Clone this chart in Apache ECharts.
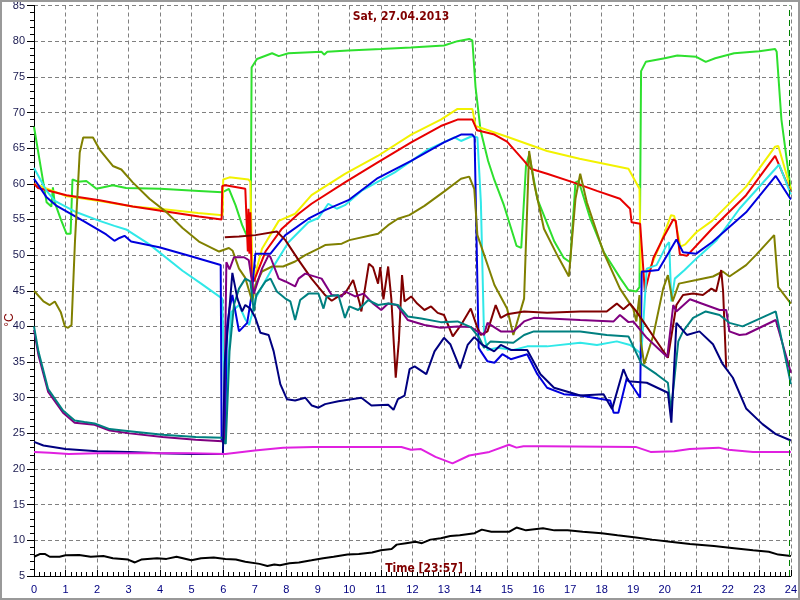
<!DOCTYPE html>
<html>
<head>
<meta charset="utf-8">
<script src="https://cdn.jsdelivr.net/npm/echarts@6/dist/echarts.min.js"></script>
<style>html,body{margin:0;padding:0;background:#fff}#c{width:800px;height:600px}</style>
</head>
<body>
<div id="c"></div>
<script>
const titleText = 'Sat, 27.04.2013';
const timeText = 'Time [23:57]';
const yName = '°C';
const nowMark = 23.95;

const green = [[0,68],[0.4,57.4],[0.55,56.8],[0.6,59.5],[0.65,57.5],[0.85,55],[1.03,53],[1.16,53],[1.22,60.6],[1.4,60.3],[1.66,60.4],[1.98,59.3],[2.5,59.8],[2.92,59.4],[4,59.3],[5.23,59],[5.97,58.8],[6.18,59.3],[6.39,57],[6.6,54.2],[6.82,52],[6.87,52.5],[6.9,76.3],[7.07,77.5],[7.55,78.3],[7.76,77.9],[8.07,78.3],[9.12,78.5],[9.2,78.1],[9.3,78.5],[9.96,78.7],[11,78.9],[11.95,79.1],[13,79.4],[13.43,80],[13.8,80.3],[13.9,80.1],[14.0,73.6],[14.16,67.5],[14.4,63.2],[14.6,60.5],[14.9,57],[15.3,51.3],[15.45,51],[15.6,62.5],[15.7,64.1],[15.96,57.9],[16.5,51.9],[16.8,49.6],[17.0,49],[17.17,60.2],[17.27,60.4],[17.64,55.1],[18.07,50.4],[18.6,46.7],[18.85,45.1],[19.1,44.9],[19.2,45.5],[19.25,75.8],[19.4,77.1],[20,77.6],[20.4,78],[21,77.8],[21.3,77.1],[21.6,77.6],[22.2,78.3],[23,78.6],[23.5,78.9],[23.55,78.5],[23.7,69],[24,59]];
const yellow = [[0,60],[0.13,59.8],[1,58.3],[2.08,57.6],[3.13,56.8],[4.2,56.4],[5.2,55.9],[5.98,55.6],[6.0,60.6],[6.2,60.9],[6.8,60.6],[6.86,60.3],[6.93,47],[6.97,46.6],[7.23,50.9],[7.76,54.8],[8.28,55.8],[8.8,58.4],[9.86,61.4],[10.9,63.9],[11.96,66.9],[12.9,69],[13.43,70.5],[13.9,70.5],[14.0,68.1],[14.06,67.9],[15.0,66.6],[16.27,64.6],[17.3,63.5],[18.85,62.1],[19.2,59.3],[19.24,47.5],[19.53,48.1],[19.85,51.4],[20.2,55.6],[20.3,55.5],[20.5,51.2],[20.65,51.5],[21.0,53.2],[21.5,54.8],[22.58,59.6],[23.5,65.2],[23.6,65.3],[24,59.2]];
const red = [[0,60],[0.13,59.4],[1.03,58.4],[2.08,57.7],[3.13,56.8],[4.18,56.1],[5.23,55.4],[5.95,55],[5.97,59.7],[6.07,59.8],[6.7,59.3],[6.75,59.2],[6.78,50.5],[6.8,56.5],[6.83,50.2],[6.86,56],[6.9,47],[6.97,46.3],[7.34,50.5],[7.86,53.7],[8.39,55.8],[8.8,57.2],[9.86,60.2],[10.9,63],[11.96,65.8],[12.9,68.1],[13.43,69],[13.9,69],[14.05,67.5],[14.6,66.9],[15.0,65.9],[15.54,63.2],[15.75,62.1],[16.27,61.4],[17.1,60.2],[17.85,59],[18.58,57.9],[18.9,56.5],[18.95,54.6],[19.22,54.4],[19.37,44.9],[19.64,49.6],[19.95,52.4],[20.27,55],[20.35,54.8],[20.48,50.1],[20.7,49.9],[21.5,53.7],[22.58,58.4],[23.5,63.9],[23.55,64],[24,58.8]];
const cyan = [[0,62.2],[0.4,59],[0.66,57.6],[1.35,56],[2.08,54.8],[2.55,54.1],[2.92,53.6],[3.66,51.5],[4.71,47.8],[5.3,46],[5.97,43.9],[6.0,37.9],[6.05,23.6],[6.1,30],[6.25,42],[6.5,43],[6.7,41],[6.82,40.2],[6.9,41.5],[7.02,43.9],[7.55,48.1],[8.07,51.8],[8.7,54.6],[9.02,55.2],[9.33,57.2],[9.6,56.5],[9.86,57],[10.38,59],[11.44,61.6],[12.49,64.8],[13.33,66.5],[13.54,66],[13.9,66.7],[14.06,66.5],[14.17,57.4],[14.27,38.8],[14.38,36.7],[14.7,37],[15.2,36.7],[15.64,37.2],[16.27,37.2],[17.32,37.7],[17.85,37.4],[18.48,37.9],[18.9,37.4],[19.22,36.3],[19.25,35.6],[19.43,48.1],[19.74,48.6],[20.06,51.4],[20.14,51.8],[20.21,43.5],[20.32,46.7],[20.63,47.9],[21.0,49.5],[21.63,52],[22.37,56.5],[23.63,62.7],[24,58.5]];
const blue = [[0,60.7],[0.4,58.1],[0.72,56.9],[1.56,54.8],[2.29,52.9],[2.55,52],[2.71,52.4],[2.87,52.7],[3.08,51.9],[3.97,51.1],[4.92,49.9],[5.92,48.6],[5.95,24],[6.05,24.2],[6.12,40],[6.2,42.5],[6.29,44.4],[6.5,39.3],[6.76,40.5],[6.9,44.4],[7.02,50.2],[7.5,50.2],[7.97,52.8],[8.7,55.1],[9.23,56.3],[9.97,57.7],[10.9,60.8],[11.96,63.2],[13.0,65.8],[13.54,66.9],[13.9,66.9],[13.97,66.5],[14.1,37],[14.17,36.5],[14.38,35.1],[14.6,34.9],[14.85,36.1],[15.12,35.4],[15.64,36.1],[15.96,33.3],[16.27,31.4],[16.8,30.5],[17.32,30.3],[18.27,29.6],[18.38,27.9],[18.53,27.9],[18.8,32.8],[19.22,30],[19.27,47.7],[19.37,47.7],[19.8,47.9],[20.37,52.2],[20.58,50.4],[21.0,50.2],[21.5,51.8],[22.58,56],[23.52,61.1],[24,57.8]];
const olive = [[0,45],[0.3,43.5],[0.5,43],[0.66,43.5],[0.85,42],[0.98,40],[1.08,39.8],[1.19,40.2],[1.3,52],[1.45,64.4],[1.56,66.5],[1.87,66.5],[2.08,64.8],[2.5,62.5],[2.77,62],[3.13,60.2],[3.66,57.9],[4.18,56.1],[4.71,53.8],[5.23,51.9],[5.87,50.5],[6.18,51],[6.3,50.6],[6.5,48.1],[6.7,46.8],[6.92,43.5],[7.02,45.8],[7.23,47.7],[7.55,48.4],[7.9,48.4],[8.28,49.1],[8.6,50],[9.02,50.9],[9.23,51.4],[9.76,51.6],[10.0,52.1],[10.91,53],[11.23,54.2],[11.54,55.1],[11.9,55.6],[12.38,56.9],[13.0,58.9],[13.54,60.7],[13.8,61],[13.96,59.3],[14.06,52.8],[14.6,45.8],[15.0,42.5],[15.2,38.8],[15.54,43.9],[15.7,64.6],[15.85,60.2],[16.17,53.7],[16.59,50],[16.96,47],[17.17,57.9],[17.32,61.4],[17.53,57.4],[18.06,50.4],[18.58,45.3],[19.0,42.5],[19.1,40.7],[19.2,44.4],[19.24,37.9],[19.35,34.7],[19.64,38.8],[19.95,45.3],[20.1,47.2],[20.25,43.5],[20.45,46],[21.0,46.5],[21.53,47],[21.84,47.7],[22.05,47],[22.58,48.6],[22.89,50],[23.47,52.8],[23.6,45.5],[24,43.2]];
const maroon = [[6.05,52.5],[6.5,52.6],[7.02,52.8],[7.7,53.3],[7.97,52.1],[8.39,49.3],[8.8,46.7],[9.23,44.4],[9.44,43.6],[9.65,44.2],[9.86,44.6],[10.12,46.5],[10.33,43.2],[10.38,42.1],[10.62,48.8],[10.75,48.3],[10.91,46],[10.98,48.3],[11.08,43.8],[11.23,48.4],[11.33,43.9],[11.47,32.8],[11.57,38],[11.67,47.2],[11.75,43.5],[11.96,44.2],[12.15,43.2],[12.38,42.3],[12.59,42.8],[12.8,41.9],[13.0,41.6],[13.28,38.6],[13.54,40.2],[13.85,42.5],[14.06,39.8],[14.17,38.8],[14.38,39.3],[14.64,43],[14.8,41.2],[15.0,41.7],[15.54,42.1],[16.27,41.9],[17.32,42.1],[18.16,42.1],[18.48,43.2],[18.69,42.4],[18.9,43.2],[19.1,42.1],[20.1,35.6],[20.37,43],[20.58,44.4],[20.9,44.6],[21.21,44.4],[21.48,45.3],[21.63,44.9],[21.79,47.9],[21.85,45],[21.95,34.2]];
const purple = [[0,39.5],[0.14,36],[0.45,30.8],[0.92,27.9],[1.29,26.5],[1.92,26.2],[2.4,25.4],[3.03,25],[4.08,24.5],[5.13,24.1],[5.97,23.9],[6.02,23.5],[6.1,49],[6.2,48],[6.34,49.7],[6.66,49.7],[6.81,49.3],[6.97,44.6],[7.23,48.1],[7.44,50],[7.5,49.7],[7.76,46.7],[7.97,46.3],[8.28,45.6],[8.39,46.7],[8.6,47.4],[9.12,46.7],[9.44,44.4],[9.76,44.2],[9.86,44.9],[10.18,44.2],[10.45,44.6],[10.75,43.2],[11.01,42.3],[11.23,43.2],[11.5,43],[11.85,40.9],[12.38,40.2],[12.9,39.8],[13.43,40],[13.85,39.9],[14.06,39.3],[14.27,38.8],[14.38,40.5],[14.8,39.3],[15.2,39.3],[15.54,40.7],[15.85,41.2],[17.32,40.9],[18.38,40.7],[18.58,41.6],[18.85,40.6],[19.0,40.7],[19.43,38.4],[20.08,35.7],[20.27,43],[20.37,42.1],[20.8,43.8],[21.3,43],[21.74,42.3],[21.95,42.3],[22.05,39.3],[22.37,38.8],[22.58,38.9],[23.52,40.9],[24,33.5]];
const teal = [[0,40],[0.14,36.5],[0.45,31.2],[0.92,28.2],[1.29,26.8],[1.6,26.6],[1.92,26.4],[2.4,25.6],[3.03,25.3],[4.08,24.8],[5.13,24.5],[5.97,24.4],[6.08,23.5],[6.2,36.5],[6.34,43],[6.5,45.3],[6.7,46.7],[6.86,46.3],[6.97,42.1],[7.05,44.4],[7.34,46.3],[7.5,46.7],[7.7,44.9],[7.97,43.9],[8.13,43.5],[8.28,40.9],[8.44,43.7],[8.7,44.6],[9.02,44.6],[9.18,42.5],[9.28,44.2],[9.65,44.4],[9.86,41.2],[10.0,42.8],[10.28,42.3],[10.6,43.7],[10.91,43],[11.23,43.2],[11.54,43],[11.85,41.4],[12.28,41.1],[12.9,40.6],[13.43,40.7],[13.85,39.9],[14.12,38.4],[14.27,37],[14.48,37.9],[15.2,37.7],[15.54,38.8],[15.85,39.3],[17.32,39.3],[18.16,38.8],[18.85,38.6],[19.27,34.7],[19.74,33.3],[20.1,32.1],[20.2,28.2],[20.43,37.9],[20.58,39.3],[20.9,41.2],[21.3,42.1],[21.74,41.6],[22.05,40.5],[22.47,40],[23.52,42.1],[23.63,39.8],[24,31.9]];
const navy = [[0,23.8],[0.3,23.3],[1,22.8],[2,22.5],[3,22.4],[4,22.2],[5,22.1],[5.99,22.1],[6.05,35],[6.15,40],[6.29,47.5],[6.45,43.9],[6.6,42.1],[6.7,43],[6.86,42.5],[7.02,41.2],[7.18,39.1],[7.44,38.8],[7.6,36.5],[7.81,31.9],[8.02,29.8],[8.28,29.6],[8.6,30],[8.81,28.9],[9.02,28.6],[9.23,29.1],[9.65,29.5],[10.38,30],[10.7,28.9],[11.23,29],[11.4,28.3],[11.54,29.8],[11.75,30.3],[11.91,34],[12.07,34.4],[12.44,33.3],[12.7,36.5],[13.0,38.4],[13.2,37.5],[13.51,34.1],[13.75,37.4],[13.96,38.5],[14.22,37.4],[14.59,36.5],[14.8,37.4],[15.12,36.7],[15.64,36.7],[16.06,33.3],[16.49,31.4],[17.32,30.3],[18.06,30.5],[18.33,28.4],[18.69,34],[18.85,32.3],[19.43,32.1],[20.1,30.7],[20.21,26.5],[20.37,40.5],[20.7,38.8],[21.1,39.3],[21.53,37.5],[21.84,34.7],[22.16,32.8],[22.58,28.5],[23.1,26.3],[23.52,24.9],[24,24]];
const magenta = [[0,22.4],[0.5,22.3],[1.1,22.1],[2,22.2],[3,22.2],[4,22.2],[5,22.2],[6.07,22.1],[7,22.6],[7.9,23],[8.86,23.1],[11.65,23.1],[11.95,22.7],[12.27,22.8],[12.73,21.7],[13.27,20.8],[13.8,21.9],[14.44,22.4],[15.06,23.4],[15.3,23],[15.52,23.2],[16.14,23.2],[19.08,23.1],[19.55,22.4],[20.3,22.5],[20.79,22.8],[21.71,23],[22.02,22.7],[22.8,22.4],[24,22.4]];
const black = [[0,7.7],[0.2,8.1],[0.34,8.1],[0.5,7.7],[0.81,7.7],[1,7.9],[1.43,7.96],[1.8,7.7],[2.2,7.8],[2.5,7.5],[2.98,7.3],[3.2,6.9],[3.4,7.3],[3.9,7.5],[4.2,7.4],[4.52,7.7],[4.99,7.2],[5.3,7.5],[5.7,7.6],[6.07,7.4],[6.4,7.3],[6.7,7.0],[7.15,6.7],[7.4,6.4],[7.62,6.6],[7.8,6.5],[8.1,6.8],[8.4,6.9],[8.8,7.2],[9.17,7.5],[9.5,7.7],[9.94,8.0],[10.3,8.1],[10.72,8.3],[11.0,8.6],[11.34,8.8],[11.5,9.4],[11.8,9.6],[12.1,9.8],[12.3,9.6],[12.57,10.1],[12.9,10.3],[13.2,10.6],[13.5,10.7],[13.97,11.0],[14.2,11.5],[14.5,11.2],[15.06,11.2],[15.3,11.8],[15.6,11.4],[16.14,11.7],[16.5,11.4],[16.92,11.4],[17.4,11.2],[18,11.0],[18.5,10.7],[19.09,10.4],[19.6,10.1],[20.17,9.8],[20.8,9.5],[21.56,9.2],[22.2,8.9],[22.8,8.6],[23.3,8.4],[23.6,8.0],[24,7.8]];

const seriesDefs = [
  ['green', green, '#2ee02e'],
  ['yellow', yellow, '#f2f200'],
  ['red', red, '#e80000'],
  ['cyan', cyan, '#30e8e8'],
  ['blue', blue, '#0000dd'],
  ['olive', olive, '#808000'],
  ['maroon', maroon, '#800000'],
  ['purple', purple, '#800080'],
  ['teal', teal, '#008080'],
  ['navy', navy, '#000080'],
  ['magenta', magenta, '#e020e0'],
  ['black', black, '#000000']
];

const chart = echarts.init(document.getElementById('c'), null, {renderer: 'canvas'});
const series = seriesDefs.map(([name, data, color]) => ({
  name, type: 'line', data, showSymbol: false, symbol: 'none',
  lineStyle: {color, width: 2}, itemStyle: {color}, z: 3
}));
series[series.length - 1].markLine = {
  silent: true, symbol: 'none', label: {show: false},
  lineStyle: {color: '#008000', type: [6, 4], width: 1},
  data: [{xAxis: nowMark}]
};

const fontNarrow = "'Liberation Sans Narrow', 'DejaVu Sans Condensed', 'Liberation Sans', sans-serif";
chart.setOption({
  animation: false,
  backgroundColor: '#ffffff',
  grid: {left: 34, right: 5, top: 2, bottom: 24, containLabel: false},
  xAxis: {
    type: 'value', min: 0, max: 24, interval: 1,
    axisLine: {show: true, onZero: false, lineStyle: {color: '#000', width: 1}},
    axisTick: {show: true, inside: true, length: 6, lineStyle: {color: '#000'}},
    minorTick: {show: true, splitNumber: 6, length: 4, lineStyle: {color: '#000'}},
    axisLabel: {color: '#000080', fontSize: 11, fontFamily: "'Liberation Sans', Arial, sans-serif", margin: 8},
    splitLine: {show: true, lineStyle: {color: '#808080', type: [4, 3], width: 1}}
  },
  yAxis: {
    type: 'value', min: 5, max: 85, interval: 5,
    axisLine: {show: true, onZero: false, lineStyle: {color: '#000', width: 1}},
    axisTick: {show: true, inside: false, length: 7, lineStyle: {color: '#000'}},
    minorTick: {show: true, splitNumber: 5, length: 4, lineStyle: {color: '#000'}},
    axisLabel: {color: '#1a1a50', fontSize: 11, fontFamily: "'Liberation Sans', Arial, sans-serif", margin: 9},
    splitLine: {show: true, lineStyle: {color: '#808080', type: [4, 3], width: 1}}
  },
  graphic: [
    {type: 'rect', silent: true, z: 100, shape: {x: 1, y: 1, width: 798, height: 598},
      style: {fill: 'none', stroke: '#999999', lineWidth: 2}},
    {type: 'text', x: 401, y: 17, z: 100, style: {text: titleText, fill: '#800000',
      font: 'bold 12px ' + fontNarrow, textAlign: 'center', textVerticalAlign: 'middle'}},
    {type: 'text', x: 424, y: 569, z: 100, style: {text: timeText, fill: '#800000',
      font: 'bold 12px ' + fontNarrow, textAlign: 'center', textVerticalAlign: 'middle'}},
    {type: 'text', x: 10, y: 320, rotation: Math.PI / 2, z: 100, style: {text: yName, fill: '#800000',
      font: '12px ' + "'Liberation Sans', Arial, sans-serif", textAlign: 'center', textVerticalAlign: 'middle'}}
  ],
  series
});
</script>
</body>
</html>
